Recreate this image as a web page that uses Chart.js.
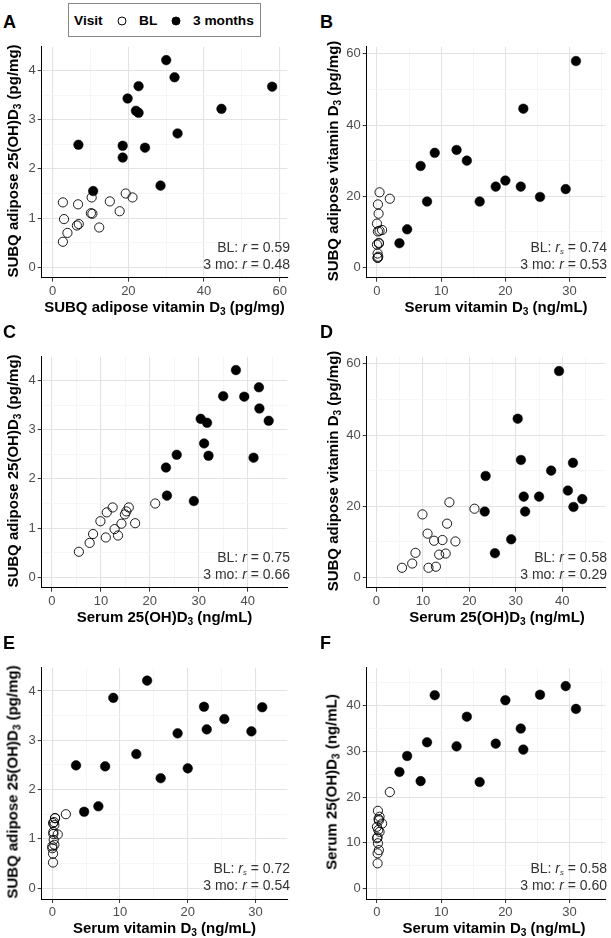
<!DOCTYPE html>
<html>
<head>
<meta charset="utf-8">
<script src="https://cdn.jsdelivr.net/npm/chart.js@4.4.1/dist/chart.umd.min.js"></script>
<style>
body { margin: 0; background: #fff; }
#fig { position: relative; width: 611px; height: 938px; overflow: hidden; font-family: "Liberation Sans", Arial, sans-serif; color: #000; }
#fig canvas { position: absolute; }
.txt { position: absolute; white-space: nowrap; line-height: 1; }
.letter { font-size: 18px; font-weight: bold; transform: translate(0, -50%); }
.xtitle { font-size: 15px; font-weight: bold; transform: translate(-50%, -50%); }
.ytitle { font-size: 15px; font-weight: bold; transform: translate(-50%, -50%) rotate(-90deg); }
.ann { font-size: 14px; color: #333; transform: translate(-100%, -50%); }
.leg { font-size: 13.7px; font-weight: bold; transform: translate(0, -50%); }
sub { font-size: 68%; vertical-align: -0.3em; line-height: 0; }
sub.s { font-size: 55%; font-style: italic; }
#legbox { position: absolute; left: 67.5px; top: 2.5px; width: 193px; height: 34px; border: 1px solid #888; box-sizing: border-box; }
.dot { position: absolute; width: 9px; height: 9px; border-radius: 50%; box-sizing: border-box; border: 1px solid #000; transform: translate(-50%, -50%); }
</style>
</head>
<body>
<div id="fig"></div>
<script>
// values, one entry per participant

// baseline visit (BL)
var blSerumD3   = [0.1, 0.1, 0.3, 0.15, 0.0, 0.1, 0.4, 0.2, 0.0, 0.8, 0.3, 0.25, 0.4, 0.15, 2.0];
var blSerum25   = [5.5, 7.7, 8.4, 9.9, 11.0, 11.2, 12.4, 12.8, 13.5, 14.2, 14.9, 15.2, 15.7, 17.0, 21.1];
var blAdiposeD3 = [2.7, 3.9, 6.9, 17.7, 12.3, 2.7, 10.3, 3.0, 6.4, 10.5, 6.7, 15.1, 21.1, 10.1, 19.3];
var blAdipose25 = [0.52, 0.70, 0.88, 1.14, 0.81, 1.32, 1.42, 0.98, 0.85, 1.09, 1.28, 1.34, 1.42, 1.10, 1.50];

// 3 months
var m3SerumD3   = [3.5, 4.7, 6.8, 7.8, 9.0, 12.4, 14.0, 16.0, 18.5, 20.0, 22.4, 22.8, 25.4, 29.4, 31.0];
var m3Serum25   = [25.5, 29.0, 23.5, 32.0, 42.3, 31.1, 37.6, 23.3, 31.7, 41.2, 35.0, 30.4, 42.4, 44.3, 39.3];
var m3AdiposeD3 = [6.8, 10.7, 28.5, 18.5, 32.2, 33.0, 30.0, 18.5, 22.7, 24.4, 22.7, 44.6, 19.8, 22.0, 58.0];
var m3Adipose25 = [2.49, 1.55, 1.66, 2.47, 3.86, 2.72, 4.21, 2.23, 3.14, 2.43, 3.68, 3.22, 3.43, 3.18, 3.67];

// tick labels
var ticksSerumD3   = [0, 10, 20, 30];
var ticksSerum25   = [0, 10, 20, 30, 40];
var ticksAdiposeD3 = [0, 20, 40, 60];
var ticksAdipose25 = [0, 1, 2, 3, 4];

var titleSerumD3   = 'Serum vitamin D<sub>3</sub> (ng/mL)';
var titleSerum25   = 'Serum 25(OH)D<sub>3</sub> (ng/mL)';
var titleAdiposeD3 = 'SUBQ adipose vitamin D<sub>3</sub> (pg/mg)';
var titleAdipose25 = 'SUBQ adipose 25(OH)D<sub>3</sub> (pg/mg)';

var R = '<i>r</i>', RS = '<i>r</i><sub class="s">s</sub>';

var panels = [
  { letter: 'A', x: [blAdiposeD3, m3AdiposeD3], y: [blAdipose25, m3Adipose25],
    xt: ticksAdiposeD3, yt: ticksAdipose25, xr: [-2.9, 62], yr: [-0.21, 4.48],
    xTitle: titleAdiposeD3, yTitle: titleAdipose25,
    ann: ['BL: ' + R + ' = 0.59', '3 mo: ' + R + ' = 0.48'],
    box: [41.7, 43.3, 287.3, 277.7], padR: 12, yTitleX: 12.3, xTitleX: 164.5, annX: 290, letterX: 3 },
  { letter: 'B', x: [blSerumD3, m3SerumD3], y: [blAdiposeD3, m3AdiposeD3],
    xt: ticksSerumD3, yt: ticksAdiposeD3, xr: [-1.6, 35.6], yr: [-2.9, 62],
    xTitle: titleSerumD3, yTitle: titleAdiposeD3,
    ann: ['BL: ' + RS + ' = 0.74', '3 mo: ' + R + ' = 0.53'],
    box: [366.7, 43.3, 611, 277.7], padR: 0, yTitleX: 332, xTitleX: 496, annX: 607, letterX: 320 },
  { letter: 'C', x: [blSerum25, m3Serum25], y: [blAdipose25, m3Adipose25],
    xt: ticksSerum25, yt: ticksAdipose25, xr: [-2.1, 48.1], yr: [-0.21, 4.48],
    xTitle: titleSerum25, yTitle: titleAdipose25,
    ann: ['BL: ' + R + ' = 0.75', '3 mo: ' + R + ' = 0.66'],
    box: [41.7, 353.3, 287.3, 587.7], padR: 12, yTitleX: 12.3, xTitleX: 164.5, annX: 290, letterX: 3 },
  { letter: 'D', x: [blSerum25, m3Serum25], y: [blAdiposeD3, m3AdiposeD3],
    xt: ticksSerum25, yt: ticksAdiposeD3, xr: [-2.1, 49.3], yr: [-2.9, 62],
    xTitle: titleSerum25, yTitle: titleAdiposeD3,
    ann: ['BL: ' + R + ' = 0.58', '3 mo: ' + R + ' = 0.29'],
    box: [366.7, 353.3, 611, 587.7], padR: 0, yTitleX: 332, xTitleX: 497, annX: 607, letterX: 320 },
  { letter: 'E', x: [blSerumD3, m3SerumD3], y: [blAdipose25, m3Adipose25],
    xt: ticksSerumD3, yt: ticksAdipose25, xr: [-1.57, 34.7], yr: [-0.22, 4.47],
    xTitle: titleSerumD3, yTitle: titleAdipose25,
    ann: ['BL: ' + RS + ' = 0.72', '3 mo: ' + R + ' = 0.54'],
    box: [41.7, 664, 287.3, 899], padR: 12, yTitleX: 12.3, xTitleX: 164.5, annX: 290, letterX: 3 },
  { letter: 'F', x: [blSerumD3, m3SerumD3], y: [blSerum25, m3Serum25],
    xt: ticksSerumD3, yt: ticksSerum25, xr: [-1.6, 35.6], yr: [-2.3, 48.3],
    xTitle: titleSerumD3, yTitle: titleSerum25,
    ann: ['BL: ' + RS + ' = 0.58', '3 mo: ' + R + ' = 0.60'],
    box: [366.7, 664, 611, 899], padR: 0, yTitleX: 331, xTitleX: 494, annX: 607, letterX: 320 }
];

var fig = document.getElementById('fig');

function addText(html, cls, x, y) {
  var d = document.createElement('div');
  d.className = 'txt ' + cls;
  d.innerHTML = html;
  d.style.left = x + 'px';
  d.style.top = y + 'px';
  fig.appendChild(d);
  return d;
}

function points(xs, ys) {
  return xs.map(function(v, i) { return { x: v, y: ys[i] }; });
}

// major ticks plus the minor lines half way between them
function gridValues(major, min, max) {
  var half = (major[1] - major[0]) / 2, out = [];
  for (var v = major[0] - half; v <= max + 1e-9; v += half) {
    if (v >= min) out.push(Math.round(v * 1000) / 1000);
  }
  return out;
}

function scaleFor(major, range, isX, size) {
  var vals = gridValues(major, range[0], range[1]);
  var isMajor = function(v) { return major.indexOf(v) >= 0; };
  return {
    type: 'linear',
    min: range[0],
    max: range[1],
    afterBuildTicks: function(s) { s.ticks = vals.map(function(v) { return { value: v }; }); },
    afterFit: function(s) { if (isX) s.height = size; else s.width = size; },
    border: { display: true, color: '#000', width: 1 },
    grid: {
      color: function(c) { return c.tick && isMajor(c.tick.value) ? '#e3e3e3' : '#f2f2f2'; },
      lineWidth: function(c) { return c.tick && isMajor(c.tick.value) ? 1.1 : 0.7; },
      tickColor: function(c) { return c.tick && isMajor(c.tick.value) ? '#333' : 'rgba(0,0,0,0)'; },
      tickWidth: 1,
      tickLength: 4
    },
    ticks: {
      autoSkip: false,
      maxRotation: 0,
      padding: 2,
      color: '#4d4d4d',
      font: { family: 'Liberation Sans', size: 13 },
      callback: function(v) { return isMajor(v) ? String(v) : ''; }
    }
  };
}

panels.forEach(function(p) {
  var b = p.box;
  var L = Math.floor(b[0] - 40), T = Math.floor(b[1] - 6);
  var W = Math.ceil(b[2] + p.padR) - L, H = Math.ceil(b[3] + 24) - T;
  var xH = 22;

  var canvas = document.createElement('canvas');
  canvas.width = W; canvas.height = H;
  canvas.style.left = L + 'px'; canvas.style.top = T + 'px';
  canvas.style.width = W + 'px'; canvas.style.height = H + 'px';
  fig.appendChild(canvas);

  new Chart(canvas.getContext('2d'), {
    type: 'scatter',
    data: {
      datasets: [{
        label: 'BL',
        data: points(p.x[0], p.y[0]),
        pointRadius: 4.6,
        backgroundColor: 'rgba(0,0,0,0)',
        borderColor: '#000',
        borderWidth: 0.9
      }, {
        label: '3 months',
        data: points(p.x[1], p.y[1]),
        pointRadius: 4.8,
        backgroundColor: '#000',
        borderColor: '#000',
        borderWidth: 0.5
      }]
    },
    options: {
      responsive: false,
      animation: false,
      events: [],
      layout: { padding: { left: 0, top: b[1] - T, right: L + W - b[2], bottom: T + H - b[3] - xH } },
      plugins: { legend: { display: false }, tooltip: { enabled: false } },
      scales: {
        x: scaleFor(p.xt, p.xr, true, xH),
        y: scaleFor(p.yt, p.yr, false, b[0] - L)
      }
    }
  });

  var midY = (b[1] + b[3]) / 2;
  addText(p.letter, 'letter', p.letterX, b[1] - 21.5);
  addText(p.xTitle, 'xtitle', p.xTitleX, b[3] + 28);
  addText(p.yTitle, 'ytitle', p.yTitleX, midY);
  addText(p.ann[0], 'ann', p.annX, b[3] - 31);
  addText(p.ann[1], 'ann', p.annX, b[3] - 13.7);
});

// shared legend above panel A
var box = document.createElement('div');
box.id = 'legbox';
fig.appendChild(box);
addText('Visit', 'leg', 74, 20.7);
addText('BL', 'leg', 139, 20.7);
addText('3 months', 'leg', 193, 20.7);
[[121.7, 'rgba(0,0,0,0)'], [175.7, '#000']].forEach(function(d) {
  var c = document.createElement('div');
  c.className = 'dot';
  c.style.left = d[0] + 'px';
  c.style.top = '20.7px';
  c.style.background = d[1];
  fig.appendChild(c);
});
</script>
</body>
</html>
